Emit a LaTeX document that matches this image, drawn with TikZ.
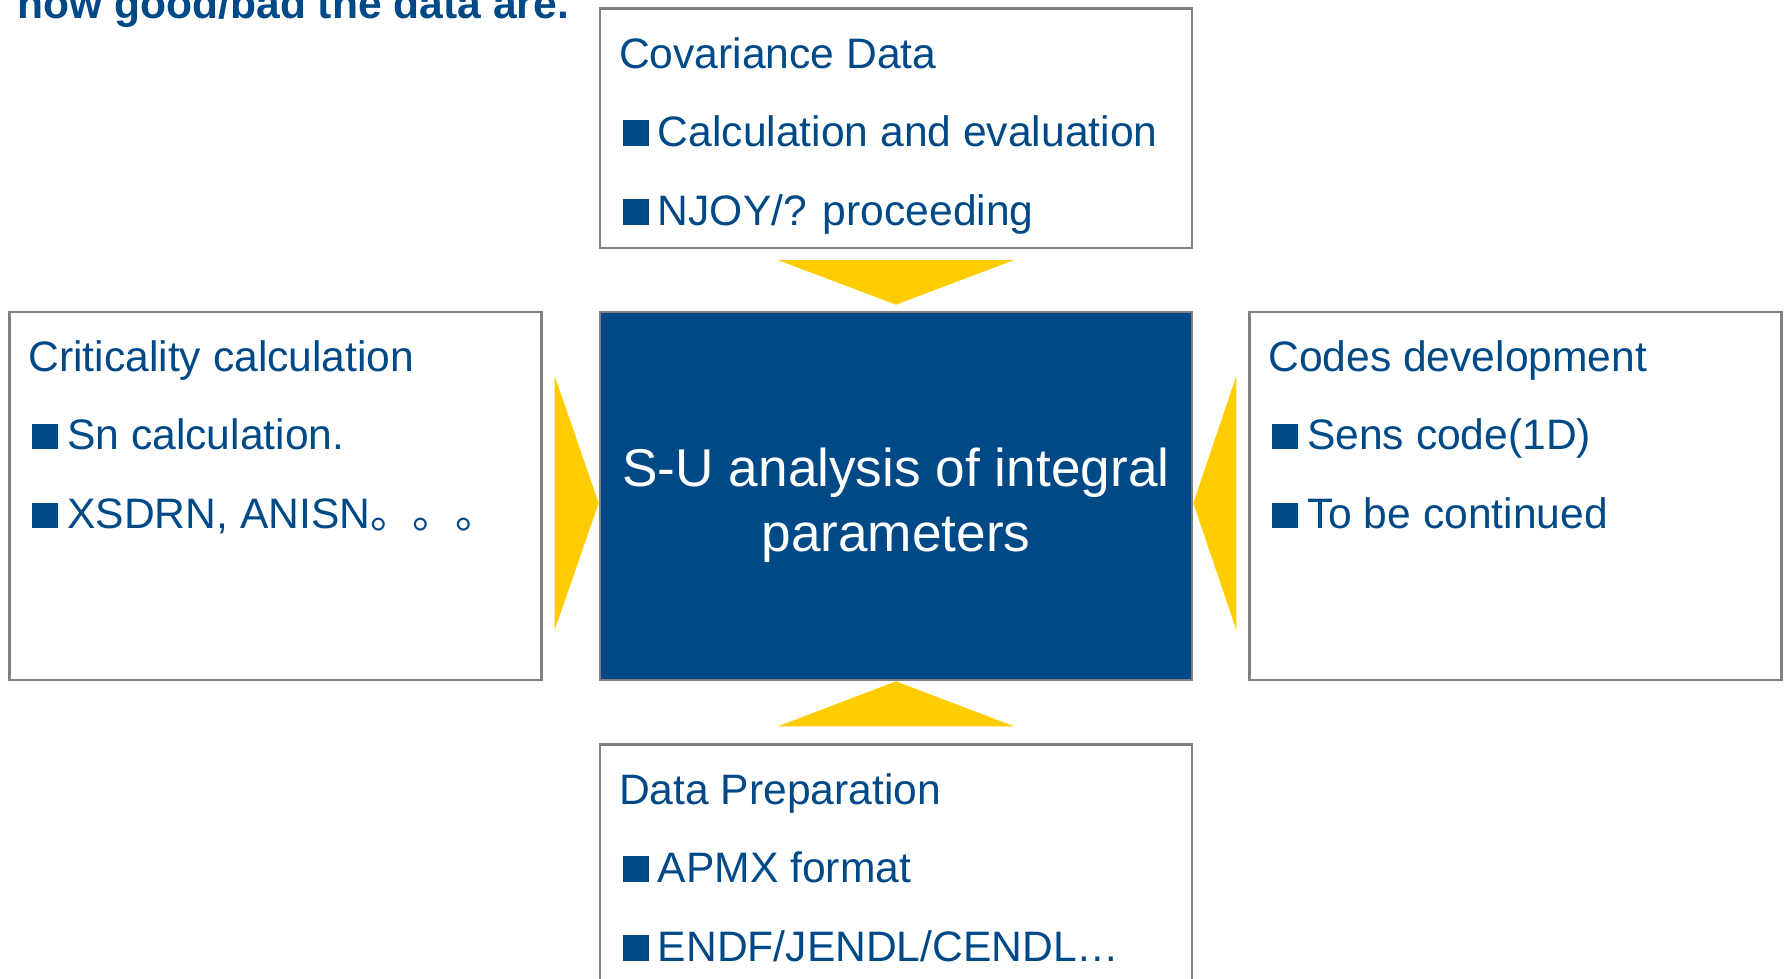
\documentclass[tikz,border=0pt]{standalone}
\usepackage{fontspec}
\setmainfont{Liberation Sans}
\newfontfamily\cjk{Noto Sans CJK SC}
\usetikzlibrary{positioning}
\definecolor{sublue}{RGB}{0,73,135}
\definecolor{suyellow}{RGB}{255,204,0}
\definecolor{framegray}{RGB}{128,128,128}
\newcommand{\sqbul}{\raisebox{0.3pt}{\textcolor{sublue}{\rule{12.8pt}{12.8pt}}}\hspace{4.6pt}}
\tikzstyle{hub} = [rectangle, draw=framegray, fill=sublue, line width=1.3pt,
minimum width=296pt, minimum height=184pt]
\tikzstyle{hubtext} = [text=white, align=center, inner sep=0pt,
font=\fontsize{26.6}{32.5}\selectfont]
\tikzstyle{panel} = [rectangle, draw=framegray, line width=1.3pt,
minimum width=296pt, minimum height=119.5pt]
\tikzstyle{sidepanel} = [panel, minimum width=266pt, minimum height=184pt]
\tikzstyle{head} = [anchor=base west, inner sep=0pt, text=sublue,
font=\fontsize{21.3}{25}\selectfont]
\tikzstyle{item} = [head]
\tikzstyle{wedge} = [fill=suyellow, draw=none]

\begin{document}
\begin{tikzpicture}[x=0.5pt, y=-0.5pt]
        \useasboundingbox (0,0) rectangle (1787,979);

        \node [head, font=\fontsize{21.3}{25}\selectfont\bfseries] (note) at (17,19) {how good/bad the data are.};

        \node [hub] (su) at (896,496) {};
        \node [hubtext] (sutext) at ([shift={(0,9)}]su.center) {S-U analysis of integral\\parameters};
        \node [panel, above=30.8pt of su] (cov) {};
        \node [panel, below=31pt of su] (prep) {};
        \node [sidepanel, left=28pt of su] (crit) {};
        \node [sidepanel, right=27.3pt of su] (codes) {};

        \node [head] (covh) at ([shift={(20,61)}]cov.north west) {Covariance Data};
        \node [item] (cov1) at ([shift={(24,139)}]cov.north west) {\sqbul Calculation and evaluation};
        \node [item] (cov2) at ([shift={(24,218)}]cov.north west) {\sqbul NJOY/? proceeding};

        \node [head] (crith) at ([shift={(20,61)}]crit.north west) {Criticality calculation};
        \node [item] (crit1) at ([shift={(24,139)}]crit.north west) {\sqbul Sn calculation.};
        \node [item] (crit2) at ([shift={(24,218)}]crit.north west) {\sqbul XSDRN, ANISN{\cjk 。。。}};

        \node [head] (codesh) at ([shift={(20,61)}]codes.north west) {Codes development};
        \node [item] (codes1) at ([shift={(24,139)}]codes.north west) {\sqbul Sens code(1D)};
        \node [item] (codes2) at ([shift={(24,218)}]codes.north west) {\sqbul To be continued};

        \node [head] (preph) at ([shift={(20,61)}]prep.north west) {Data Preparation};
        \node [item] (prep1) at ([shift={(24,139)}]prep.north west) {\sqbul APMX format};
        \node [item] (prep2) at ([shift={(24,218)}]prep.north west) {\sqbul ENDF/JENDL/CENDL…};

        \fill [wedge] ([shift={(-118,11)}]cov.south) -- ([shift={(118,11)}]cov.south) -- ([shift={(0,-6)}]su.north) -- cycle;
        \fill [wedge] ([shift={(-118,-17)}]prep.north) -- ([shift={(118,-17)}]prep.north) -- (su.south) -- cycle;
        \fill [wedge] ([shift={(-44,-120)}]su.west) -- ([shift={(-44,134)}]su.west) -- ([shift={(0,7)}]su.west) -- cycle;
        \fill [wedge] ([shift={(43,-120)}]su.east) -- ([shift={(43,134)}]su.east) -- ([shift={(0,7)}]su.east) -- cycle;
      \end{tikzpicture}
\end{document}
